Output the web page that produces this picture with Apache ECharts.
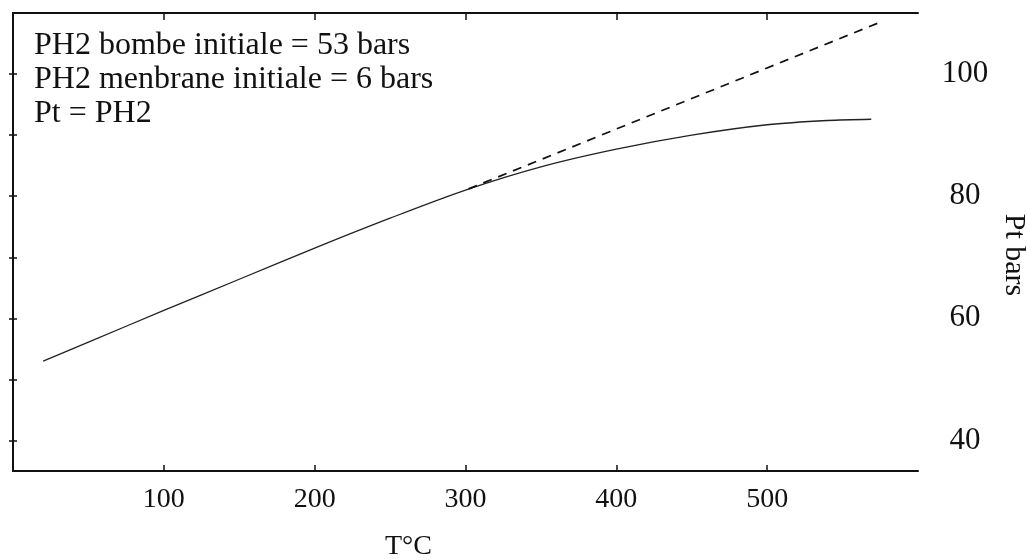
<!DOCTYPE html>
<html>
<head>
<meta charset="utf-8">
<script src="https://cdn.jsdelivr.net/npm/echarts@6/dist/echarts.min.js"></script>
<style>
html,body{margin:0;padding:0;background:#fff;}
#chart{width:1027px;height:560px;}
</style>
</head>
<body>
<div id="chart"></div>
<script>
// Data
const tempSolid = [20, 50, 100, 150, 200, 250, 300, 350, 400, 450, 500, 540, 569];
const ptSolid   = [53, 56.1, 61.3, 66.4, 71.5, 76.4, 81.0, 84.8, 87.7, 90.0, 91.7, 92.4, 92.6];
const tempDashed = [302, 574];
const ptDashed   = [81.2, 108.4];
const xTicks = [100, 200, 300, 400, 500];
const yTicks = [40, 50, 60, 70, 80, 90, 100];
const yLabels = [40, 60, 80, 100];
const annotation = ['PH2 bombe initiale = 53 bars', 'PH2 menbrane initiale = 6 bars', 'Pt = PH2'];
const xName = 'T°C';
const yName = 'Pt bars';

const serif = '"Liberation Serif", "DejaVu Serif", serif';
const chart = echarts.init(document.getElementById('chart'));
const axisLineStyle = {color: '#111', width: 2};

chart.setOption({
  backgroundColor: '#fff',
  animation: false,
  grid: {left: 13, right: 109, top: 13, bottom: 89, containLabel: false, outerBoundsMode: 'none'},
  xAxis: [{
    type: 'value', position: 'bottom', min: 0, max: 600,
    axisLine: {show: true, lineStyle: axisLineStyle},
    axisTick: {show: true, inside: true, length: 6, customValues: xTicks, lineStyle: {color: '#111', width: 1.5}},
    axisLabel: {customValues: xTicks, color: '#111', fontFamily: serif, fontSize: 28, margin: 15},
    splitLine: {show: false},
    name: xName, nameLocation: 'middle', nameGap: 62,
    nameTextStyle: {color: '#111', fontFamily: serif, fontSize: 28, padding: [0, 114, 0, 0]}
  }, {
    type: 'value', position: 'top', min: 0, max: 600,
    axisLine: {show: true, lineStyle: axisLineStyle},
    axisTick: {show: true, inside: true, length: 7, customValues: xTicks, lineStyle: {color: '#111', width: 1.5}},
    axisLabel: {show: false},
    splitLine: {show: false}
  }],
  yAxis: [{
    type: 'value', position: 'right', min: 35, max: 110,
    axisLine: {show: true, lineStyle: axisLineStyle},
    axisTick: {show: true, inside: true, length: 4, customValues: yTicks, lineStyle: {color: '#111', width: 1.5}},
    axisLabel: {customValues: yLabels, color: '#111', fontFamily: serif, fontSize: 31, align: 'center', margin: 47},
    splitLine: {show: false},
    name: yName, nameLocation: 'middle', nameRotate: -90, nameGap: 67,
    nameTextStyle: {color: '#111', fontFamily: serif, fontSize: 30, padding: [0, 0, 0, 26]}
  }, {
    type: 'value', position: 'left', min: 35, max: 110,
    axisLine: {show: true, lineStyle: axisLineStyle},
    axisTick: {show: true, inside: true, length: 4, customValues: yTicks, lineStyle: {color: '#111', width: 1.5}},
    axisLabel: {show: false},
    splitLine: {show: false}
  }],
  graphic: [{
    type: 'text', left: 34, top: 29,
    style: {text: annotation.join('\n'), fill: '#111', font: '32px ' + serif, lineHeight: 34}
  }],
  series: [{
    type: 'line', xAxisIndex: 0, yAxisIndex: 0,
    data: tempSolid.map((t, i) => [t, ptSolid[i]]),
    smooth: 0.3, showSymbol: false,
    lineStyle: {color: '#222', width: 1.3}
  }, {
    type: 'line', xAxisIndex: 0, yAxisIndex: 0,
    data: tempDashed.map((t, i) => [t, ptDashed[i]]),
    showSymbol: false,
    lineStyle: {color: '#111', width: 1.7, type: [9, 7]}
  }]
});
</script>
</body>
</html>
